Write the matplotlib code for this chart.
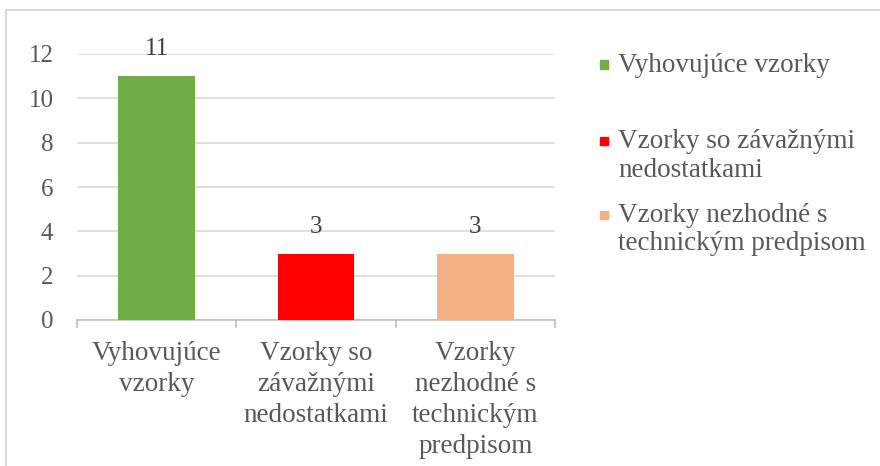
import matplotlib
matplotlib.use("Agg")
import matplotlib.pyplot as plt
from matplotlib.patches import Rectangle

categories = ["Vyhovujúce\nvzorky", "Vzorky so\nzávažnými\nnedostatkami",
              "Vzorky\nnezhodné s\ntechnickým\npredpisom"]
legend_labels = ["Vyhovujúce vzorky", "Vzorky so závažnými\nnedostatkami",
                 "Vzorky nezhodné s\ntechnickým predpisom"]
values = [11, 3, 3]
colors = ["#70AD47", "#FF0000", "#F4B183"]
yticks = [0, 2, 4, 6, 8, 10, 12]

plt.rcParams['font.family'] = ['Liberation Serif', 'DejaVu Serif']
txt = "#595959"
W, H = 880, 466
fig = plt.figure(figsize=(W/100, H/100), dpi=100)

# chart border
fig.patches.append(Rectangle((6/W, -0.1), 1.1, (H - 9.5)/H + 0.1, transform=fig.transFigure,
                             fill=False, edgecolor="#d9d9d9", linewidth=1.5))

x0, x1, ytop, ybot = 77, 555, 54, 320
ax = fig.add_axes([x0/W, 1 - ybot/H, (x1 - x0)/W, (ybot - ytop)/H])
xs = list(range(len(values)))
bars = ax.bar(xs, values, width=0.48, color=colors, zorder=3)
ax.set_xlim(-0.5, len(values) - 0.5)
ax.set_ylim(0, 12)
ax.set_yticks(yticks)
ax.set_yticklabels([str(t) for t in yticks], fontsize=18, color=txt)
ax.tick_params(axis='y', length=0, pad=17)
ax.yaxis.grid(True, color="#d9d9d9", linewidth=1.2, zorder=0)
ax.set_xticks(xs)
ax.set_xticklabels(categories, fontsize=19.5, color=txt, linespacing=1.31)
ax.tick_params(axis='x', which='major', length=0, pad=15)
ax.set_xticks([i - 0.5 for i in range(len(values) + 1)], minor=True)
ax.tick_params(axis='x', which='minor', length=6, color="#bfbfbf", width=1.2)
for s in ['top', 'right', 'left']:
    ax.spines[s].set_visible(False)
ax.spines['bottom'].set_color("#bfbfbf")
ax.spines['bottom'].set_linewidth(1.2)

for b, v in zip(bars, values):
    ax.annotate(str(v), (b.get_x() + b.get_width()/2, v), xytext=(0, 15),
                textcoords='offset points', ha='center', va='baseline',
                fontsize=18, color="#404040")

# legend (baselines of each line in pixels from top)
leg_baselines = [[72], [148, 177], [222, 250]]
for lab, c, bl in zip(legend_labels, colors, leg_baselines):
    lines = lab.split("\n")
    yc = bl[0] - 7.5
    fig.patches.append(Rectangle((600/W, 1 - (yc + 4)/H), 8/W, 8/H,
                                 transform=fig.transFigure, color=c))
    for line, yy in zip(lines, bl):
        fig.text(618/W, 1 - yy/H, line, fontsize=19.5, color=txt,
                 ha='left', va='baseline')

fig.savefig("out.png", dpi=100)
